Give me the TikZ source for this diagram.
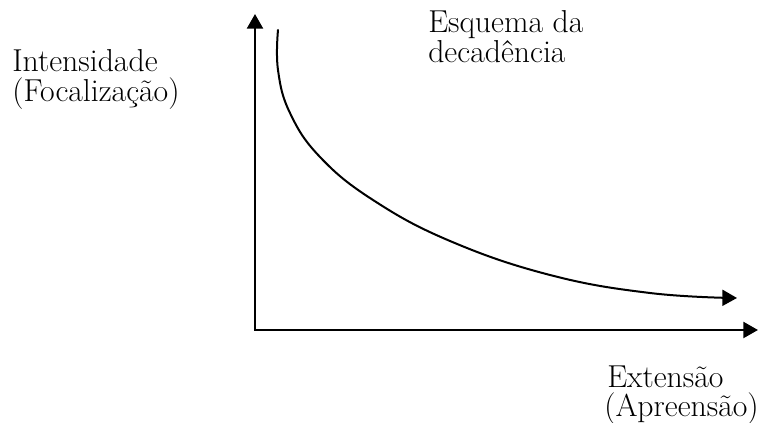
\documentclass[tikz,border=0pt]{standalone}
\usepackage{amsmath,amssymb}
\usepackage{fontspec}
\usepackage{tikz}
\usetikzlibrary{arrows.meta}
\usepackage{xcolor}

\begin{document}
\begin{tikzpicture}[x=0.75pt,y=-0.75pt,>={Triangle[length=11pt,width=12pt]},line cap=round,
  axis/.style={line width=1.7pt},
  curva/.style={line width=1.5pt},
  rotulo/.style={anchor=base west,inner sep=0pt,font=\fontsize{23.8}{25}\selectfont}]
\useasboundingbox (0,0) rectangle (758,423);
\coordinate (origem) at (255,330);
\coordinate (ytopo) at (255,14);
\coordinate (xfim) at (758,330);
% eixos
\draw[axis,<->,line cap=butt] (ytopo) |- (xfim);
% curva da decadencia
\draw[curva,->] plot[smooth,tension=0.7] coordinates {(278,30) (278,70) (290,113)
  (320,157) (373,200) (450,241) (550,275) (650,293) (737,298)};
\node[rotulo] (int) at (12,72) {Intensidade};
\node[rotulo] (foc) at (12,102) {(Focalização)};
\node[rotulo] (esq) at (428,33) {Esquema da};
\node[rotulo] (dec) at (428,63) {decadência};
\node[rotulo] (ext) at (607,388) {Extensão};
\node[rotulo] (apr) at (604,417) {(Apreensão)};
\end{tikzpicture}
\end{document}
